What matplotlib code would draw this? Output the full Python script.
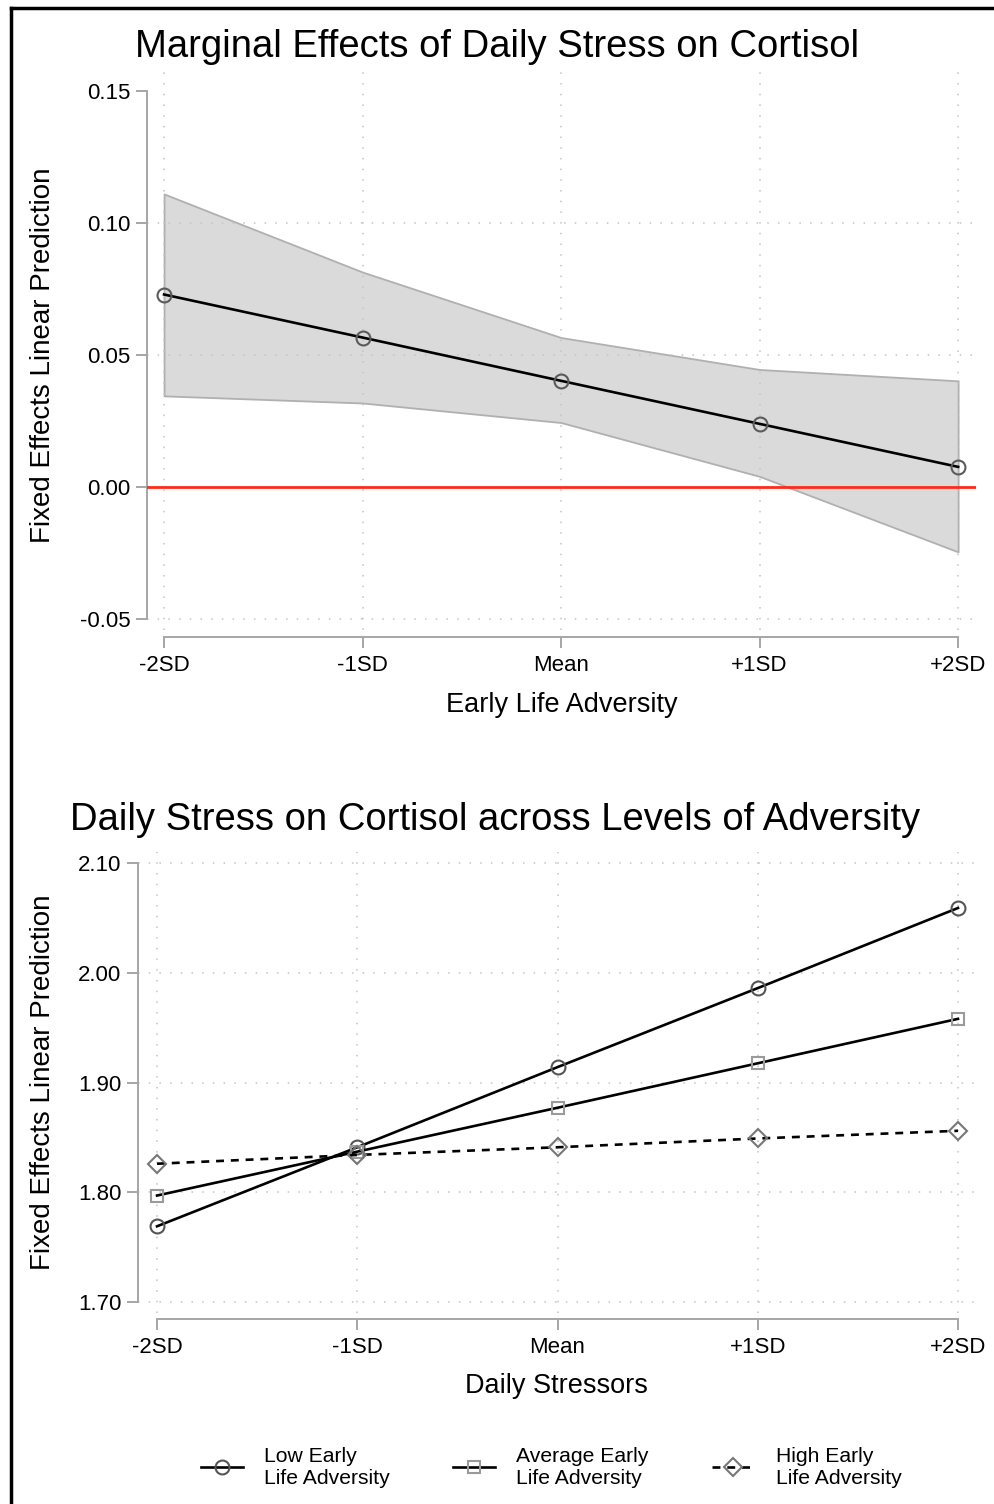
import numpy as np
import matplotlib
matplotlib.use("Agg")
import matplotlib.pyplot as plt
from matplotlib.lines import Line2D

plt.rcParams['font.family'] = ['Liberation Sans', 'DejaVu Sans']

# ---- data ----
sd_labels = ['-2SD', '-1SD', 'Mean', '+1SD', '+2SD']

# top panel: marginal effect of daily stress with CI band
marg_est = [0.0729, 0.0566, 0.0402, 0.0239, 0.0076]
marg_lo = [0.0345, 0.0318, 0.0244, 0.0040, -0.0246]
marg_hi = [0.1110, 0.0814, 0.0566, 0.0445, 0.0402]
top_yticks = [-0.05, 0.00, 0.05, 0.10, 0.15]

# bottom panel: predictions by adversity level
low_adv = [1.769, 1.841, 1.914, 1.986, 2.059]
avg_adv = [1.797, 1.837, 1.877, 1.9175, 1.958]
high_adv = [1.826, 1.834, 1.841, 1.849, 1.856]
bot_yticks = [1.70, 1.80, 1.90, 2.00, 2.10]
legend_labels = ['Low Early\nLife Adversity', 'Average Early\nLife Adversity',
                 'High Early\nLife Adversity']

# ---- figure ----
W, H = 995, 1504
fig = plt.figure(figsize=(W / 100, H / 100), dpi=100)

def px_axes(l, t, r, b):
    return fig.add_axes([l / W, 1 - b / H, (r - l) / W, (b - t) / H])

SPINE = '#a6a6a6'
GRID = '#c4c4c4'
TICK_FS = 16
LAB_FS = 19.5
TITLE_FS = 27.5
xpos = np.arange(len(sd_labels))


def style_axes(ax, yticks, xlim, ylim, xoff):
    ax.set_xlim(*xlim)
    ax.set_ylim(*ylim)
    for s in ['top', 'right']:
        ax.spines[s].set_visible(False)
    ax.spines['left'].set_bounds(yticks[0], yticks[-1])
    ax.spines['bottom'].set_bounds(xpos[0], xpos[-1])
    ax.spines['bottom'].set_position(('outward', xoff))
    for s in ['left', 'bottom']:
        ax.spines[s].set_color(SPINE)
        ax.spines[s].set_linewidth(1.4)
    ax.set_xticks(xpos)
    ax.set_xticklabels(sd_labels)
    ax.set_yticks(yticks)
    ax.set_yticklabels(['%.2f' % v for v in yticks])
    ax.tick_params(axis='both', colors=SPINE, labelcolor='black', labelsize=TICK_FS,
                   length=8, width=1.4)
    ax.tick_params(axis='x', pad=5)
    ax.tick_params(axis='y', pad=4)


# ---------------- top panel ----------------
ax1 = px_axes(147, 72, 976, 630)
style_axes(ax1, top_yticks, (-0.086, 4.09), (-0.0542, 0.1572), 5)

for xv in xpos:
    ax1.axvline(xv, color=GRID, lw=1.1, ls=(0, (1, 6)), zorder=2)
for yv in top_yticks[:-1]:
    ax1.axhline(yv, color=GRID, lw=1.1, ls=(0, (1, 6)), zorder=2)

ax1.fill_between(xpos, marg_lo, marg_hi, facecolor='#dadada', edgecolor='#b0b0b0',
                 lw=1.3, zorder=1)
ax1.axhline(0, color='#ff2a1a', lw=2.0, zorder=3)
ax1.plot(xpos, marg_est, color='black', lw=1.9, marker='o', ms=10,
         mfc='none', mec='#5a5a5a', mew=1.5, zorder=4)

ax1.set_xlabel('Early Life Adversity', fontsize=LAB_FS, va='center')
ax1.xaxis.set_label_coords(0.5, (630 - 705) / 558)
ax1.set_ylabel('Fixed Effects Linear Prediction', fontsize=20, va='center')
ax1.yaxis.set_label_coords((43 - 147) / 829, 0.493)

fig.text(497 / W, 1 - 57 / H, 'Marginal Effects of Daily Stress on Cortisol',
         fontsize=TITLE_FS, ha='center', va='baseline')

# ---------------- bottom panel ----------------
ax2 = px_axes(138, 852, 975, 1313)
style_axes(ax2, bot_yticks, (-0.095, 4.085), (1.690, 2.110), 4.5)

for xv in xpos:
    ax2.axvline(xv, color=GRID, lw=1.1, ls=(0, (1, 6)), zorder=1)
for yv in bot_yticks:
    ax2.axhline(yv, color=GRID, lw=1.1, ls=(0, (1, 6)), zorder=1)

h_low, = ax2.plot(xpos, low_adv, color='black', lw=1.9, marker='o', ms=10,
                  mfc='none', mec='#555555', mew=1.5, zorder=4)
h_avg, = ax2.plot(xpos, avg_adv, color='black', lw=1.9, marker='s', ms=9,
                  mfc='none', mec='#9a9a9a', mew=1.5, zorder=4)
h_high, = ax2.plot(xpos, high_adv, color='black', lw=1.9, ls=(0, (3, 2.6)),
                   marker='D', ms=9, mfc='none', mec='#777777', mew=1.5, zorder=4)

ax2.set_xlabel('Daily Stressors', fontsize=LAB_FS, va='center')
ax2.xaxis.set_label_coords(0.5, (1313 - 1386) / 461)
ax2.set_ylabel('Fixed Effects Linear Prediction', fontsize=20, va='center')
ax2.yaxis.set_label_coords((43 - 138) / 837, 0.5)

fig.text(495 / W, 1 - 830 / H, 'Daily Stress on Cortisol across Levels of Adversity',
         fontsize=TITLE_FS, ha='center', va='baseline')

fig.legend([h_low, h_avg, h_high], legend_labels, loc='center',
           bbox_to_anchor=(551 / W, 1 - 1467 / H), ncol=3, frameon=False,
           fontsize=15.2, handlelength=2.0, handletextpad=1.0, columnspacing=3.0,
           labelspacing=0.2)

# frame lines like the cropped screenshot
fig.add_artist(Line2D([11 / W, 11 / W], [0, 1 - 8 / H], color='black', lw=2.5))
fig.add_artist(Line2D([11 / W, 1], [1 - 8 / H, 1 - 8 / H], color='black', lw=2.5))

fig.savefig('out.png', dpi=100)
